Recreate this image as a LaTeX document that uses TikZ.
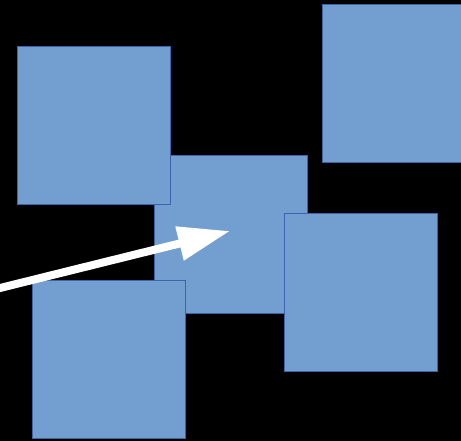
\documentclass[tikz,border=0pt]{standalone}
\usepackage{tikz}
\usetikzlibrary{arrows.meta,positioning}
\definecolor{boxfill}{RGB}{114,159,207}
\definecolor{boxline}{RGB}{60,100,172}
\tikzset{
  box/.style={draw=boxline,fill=boxfill,line width=1pt,inner sep=0pt,
    minimum width=153pt,minimum height=158pt},
  pointer/.style={white,line width=8pt,-{Triangle[length=52pt,width=33pt]}}
}
\begin{document}
\begin{tikzpicture}[x=1pt,y=-1pt]
  \fill[black](0,0) rectangle (461,441);
  \useasboundingbox(0,0) rectangle (461,441);
  \clip(0,0) rectangle (461,441);
  % squares
  \node[box](mid) at (231,234.5) {};
  \node[box](topleft) at (93.5,126) {};
  \node[box](topright) at (398.5,83.5) {};
  \node[box](right) at (360.5,292.5) {};
  \node[box](botleft) at (108.5,359.5) {};
  % arrow
  \coordinate(start) at (-2,288.5);
  \coordinate(tip) at (230,231);
  \draw[pointer](start)--(tip);
\end{tikzpicture}
\end{document}
